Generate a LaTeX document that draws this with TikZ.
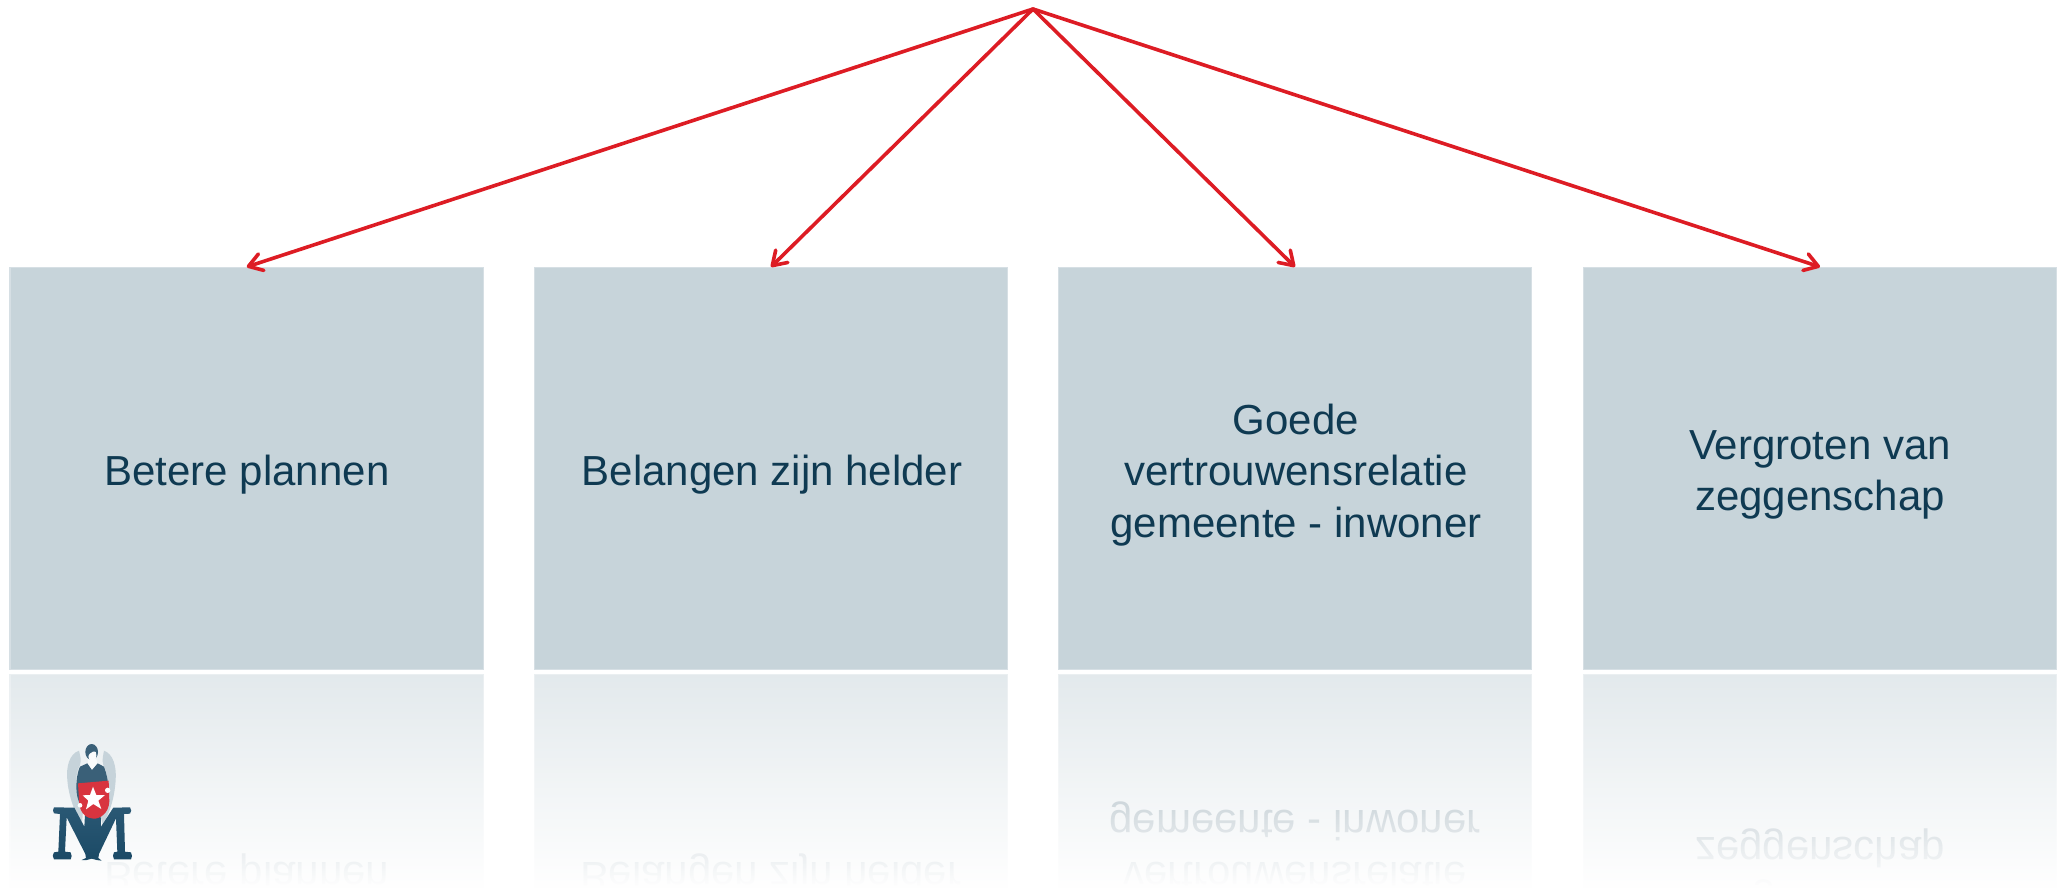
\documentclass[tikz,border=0pt]{standalone}
\usepackage{fontspec}
\setmainfont{Liberation Sans}
\usetikzlibrary{arrows.meta,fadings}
\definecolor{boxfill}{HTML}{C7D4DA}
\definecolor{boxedge}{HTML}{D6DFE4}
\definecolor{inkblue}{HTML}{0F3A52}
\definecolor{arrowred}{HTML}{DD1C24}
\definecolor{logodark}{HTML}{1B4A66}
\definecolor{logotop}{HTML}{2A5874}
\definecolor{logomid}{HTML}{3A6078}
\definecolor{logowing}{HTML}{C6D3DA}
\definecolor{logored}{HTML}{D8343F}
\tikzfading[name=mirrorfade, top color=transparent!50, bottom color=transparent!0]
\tikzset{
  x=0.75pt, y=-0.75pt,
  panel/.style={draw=boxedge, line width=0.9pt, fill=boxfill, minimum width=355pt, minimum height=301.5pt, inner sep=0pt},
  label/.style={text=inkblue, font=\fontsize{31.5}{38.4}\selectfont, align=center, inner sep=0pt},
  mirror/.style={label, yscale=-1},
  link/.style={draw=arrowred, line width=2.7pt, line cap=round, -{Straight Barb[length=10pt,width=13pt,line width=2.7pt,round]}},
}
\begin{document}
\begin{tikzpicture}
\useasboundingbox (0,0) rectangle (2067,888);
% mirror images
\begin{scope}
\clip (0,672) rectangle (2067,888);
\node[panel] at (246.75,875) {};
\node[panel] at (771,875) {};
\node[panel] at (1295,875) {};
\node[panel] at (1820,875) {};
\node[mirror] at (246.75,873) {Betere plannen};
\node[mirror] at (771,873) {Belangen zijn helder};
\node[mirror] at (1295,873) {Goede\\vertrouwensrelatie\\gemeente - inwoner};
\node[mirror] at (1820,873) {Vergroten van\\zeggenschap};
\fill[white, path fading=mirrorfade] (0,673) rectangle (2067,888);
\fill[white] (0,669) rectangle (2067,673.5);
\end{scope}
% panels
\node[panel] (a) at (246.75,468.5) {};
\node[panel] (b) at (771,468.5) {};
\node[panel] (c) at (1295,468.5) {};
\node[panel] (d) at (1820,468.5) {};
\node[label] (ta) at (247,475) {Betere plannen};
\node[label] (tb) at (772,475) {Belangen zijn helder};
\node[label] (tc) at (1296,475) {Goede\\vertrouwensrelatie\\gemeente - inwoner};
\node[label] (td) at (1820,475) {Vergroten van\\zeggenschap};
% connectors
\coordinate (apex) at (1033,9);
\draw[link] (apex) -- (a.north);
\draw[link] (apex) -- (b.north);
\draw[link] (apex) -- (c.north);
\draw[link] (apex) -- (d.north);
% logo
\begin{scope}[shift={(30,730)}, x=0.25pt, y=-0.25pt]
\fill[logowing] (147,62) .. controls (118,72) and (108,110) .. (112,150) .. controls (116,200) and (135,250) .. (156,282) -- (160,230) .. controls (140,190) and (130,140) .. (150,105) .. controls (155,90) and (150,75) .. (147,62) -- cycle;
\fill[logowing] (222,62) .. controls (250,72) and (260,110) .. (257,150) .. controls (254,200) and (240,250) .. (218,282) -- (205,235) .. controls (230,190) and (240,140) .. (220,105) .. controls (215,90) and (220,75) .. (222,62) -- cycle;
\fill[logomid] (150,110) -- (172,100) -- (186,120) -- (203,100) -- (222,110) .. controls (230,130) and (233,150) .. (234,160) -- (225,215) -- (150,225) -- (142,200) .. controls (136,170) and (140,130) .. (150,110) -- cycle;
\fill[white!90!logowing] (173,99) -- (186,118) -- (202,99) -- (198,85) -- (174,85) -- cycle;
\fill[logomid] (185,66) ellipse (19 and 24);
\fill[white!92!logowing] (187,76) ellipse (12 and 19);
\fill[logomid] (169,70) .. controls (170,50) and (200,45) .. (203,68) .. controls (195,62) and (180,62) .. (173,82) -- cycle;
\shade[top color=logotop, bottom color=logodark] (72,232) -- (133,233) -- (163,290) -- (165,255) -- (212,255) -- (213,290) -- (250,233) -- (300,232) .. controls (305,238) and (305,246) .. (300,251) -- (282,252) -- (285,365) -- (303,367) .. controls (307,375) and (307,382) .. (303,388) -- (252,388) .. controls (248,382) and (248,372) .. (252,367) -- (262,365) -- (258,265) -- (207,372) -- (205,384) -- (215,392) -- (200,390) -- (185,386) -- (170,390) -- (155,390) -- (168,384) -- (166,372) -- (110,262) -- (105,365) -- (122,367) .. controls (126,375) and (126,382) .. (122,388) -- (72,388) .. controls (67,382) and (67,372) .. (72,367) -- (85,365) -- (90,252) -- (72,250) .. controls (68,245) and (68,238) .. (72,232) -- cycle;
\fill[logored] (144,160) -- (236,152) -- (238,215) .. controls (236,250) and (210,267) .. (190,266) .. controls (170,266) and (150,248) .. (148,222) -- cycle;
\fill[white] (189,170) -- (199,195) -- (225,195) -- (205,212) -- (214,237) -- (190,222) -- (168,238) -- (175,212) -- (158,196) -- (180,195) -- cycle;
\fill[white] (233,181) circle (8);
\fill[white] (150,226) circle (7);
\end{scope}
\end{tikzpicture}
\end{document}
